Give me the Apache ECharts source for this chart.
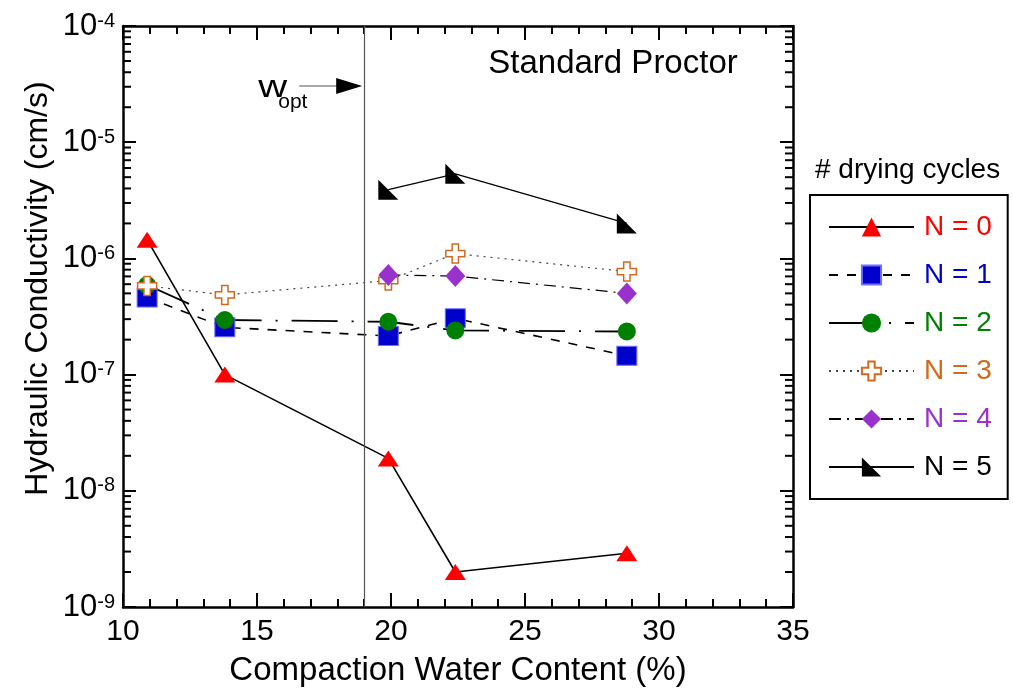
<!DOCTYPE html>
<html>
<head>
<meta charset="utf-8">
<script src="https://cdn.jsdelivr.net/npm/echarts@6/dist/echarts.min.js"></script>
<style>
html,body{margin:0;padding:0;background:#fff;}
#chart{width:1013px;height:694px;}
</style>
</head>
<body>
<div id="chart"></div>
<script>
// ---- data ----
const xAll = [10.9, 13.8, 19.9, 22.4, 28.8];
const xLate = [19.9, 22.4, 28.8];
const kN0 = [1.45e-6, 1.0e-7, 1.9e-8, 2.0e-9, 2.9e-9];
const kN1 = [4.6e-7, 2.55e-7, 2.15e-7, 3.05e-7, 1.45e-7];
const kN2 = [5.9e-7, 2.95e-7, 2.85e-7, 2.4e-7, 2.35e-7];
const kN3 = [5.8e-7, 4.85e-7, 6.45e-7, 1.1e-6, 7.7e-7];
const kN4 = [7.2e-7, 7.05e-7, 5.0e-7];
const kN5 = [3.9e-6, 5.35e-6, 2.0e-6];
const seriesNames = ['N = 0', 'N = 1', 'N = 2', 'N = 3', 'N = 4', 'N = 5'];
const X_MIN = 10, X_MAX = 35, X_STEP = 5;
const Y_MIN = 1e-9, Y_MAX = 1e-4;
const WOPT = 19;
const xTitle = 'Compaction Water Content (%)';
const yTitle = 'Hydraulic Conductivity (cm/s)';
const panelLabel = 'Standard Proctor';
const legendTitle = '# drying cycles';

// minor tick positions of the log axis (2..9 x each decade)
const yMinorTicks = [];
for (let e = -9; e < -4; e++) for (let k = 2; k <= 9; k++) yMinorTicks.push(k * Math.pow(10, e));

const FONT = "'Liberation Sans', Arial, Helvetica, sans-serif";
const pair = (xs, ys) => xs.map((x, i) => [x, ys[i]]);

const chart = echarts.init(document.getElementById('chart'), null, {renderer: 'canvas'});

const colors = ['#ff0000', '#0000cc', '#008000', '#d2691e', '#9932cc', '#000000'];

function lineSeries(name, data, lineStyle, symbol, symbolSize, itemStyle) {
  return {
    type: 'line', name, data, symbol, symbolSize,
    showSymbol: true,
    lineStyle: Object.assign({color: '#000'}, lineStyle),
    itemStyle: itemStyle,
    emphasis: {disabled: true},
    z: 3
  };
}

const option = {
  animation: false,
  backgroundColor: '#fff',
  textStyle: {fontFamily: FONT, color: '#000'},
  grid: {left: 123, right: 220, top: 26, bottom: 87, containLabel: false},
  xAxis: [{
    type: 'value', min: X_MIN, max: X_MAX, interval: X_STEP, position: 'bottom',
    name: xTitle, nameLocation: 'middle', nameGap: 47,
    nameTextStyle: {fontSize: 33, fontFamily: FONT, color: '#000'},
    axisLine: {show: true, onZero: false, lineStyle: {color: '#000', width: 2.5}},
    axisTick: {show: true, inside: true, length: 14, lineStyle: {color: '#000', width: 2}},
    minorTick: {show: true, splitNumber: 5, length: 8, lineStyle: {color: '#000', width: 2}},
    axisLabel: {fontSize: 30, fontFamily: FONT, color: '#000', margin: 10},
    splitLine: {show: false}
  }, {
    type: 'value', min: X_MIN, max: X_MAX, interval: X_STEP, position: 'top',
    axisLine: {show: true, onZero: false, lineStyle: {color: '#000', width: 2.5}},
    axisTick: {show: true, inside: true, length: 14, lineStyle: {color: '#000', width: 2}},
    minorTick: {show: true, splitNumber: 5, length: 8, lineStyle: {color: '#000', width: 2}},
    axisLabel: {show: false},
    splitLine: {show: false}
  }],
  yAxis: [{
    type: 'log', logBase: 10, min: Y_MIN, max: Y_MAX, position: 'left',
    axisLine: {show: true, onZero: false, lineStyle: {color: '#000', width: 2.5}},
    axisTick: {show: true, inside: true, length: 13, lineStyle: {color: '#000', width: 2}},
    axisLabel: {
      margin: 8,
      formatter: v => '{b|10}{s|' + Math.round(Math.log10(v)) + '}',
      rich: {
        b: {fontSize: 31, fontFamily: FONT, color: '#000', lineHeight: 30},
        s: {fontSize: 20, fontFamily: FONT, color: '#000', verticalAlign: 'top', lineHeight: 20}
      }
    },
    splitLine: {show: false}
  }, {
    type: 'log', logBase: 10, min: Y_MIN, max: Y_MAX, position: 'right',
    axisLine: {show: true, onZero: false, lineStyle: {color: '#000', width: 2.5}},
    axisTick: {show: true, inside: true, length: 13, lineStyle: {color: '#000', width: 2}},
    axisLabel: {show: false},
    splitLine: {show: false}
  }],
  legend: {
    orient: 'vertical', left: 810, top: 195,
    padding: [18, 16, 18, 18],
    itemWidth: 85, itemHeight: 24, itemGap: 20,
    borderColor: '#000', borderWidth: 2, borderRadius: 0,
    backgroundColor: '#fff',
    selectedMode: false,
    textStyle: {fontSize: 28, fontFamily: FONT, padding: [0, 0, 0, 5]},
    data: seriesNames.map((n, i) => ({name: n, textStyle: {color: colors[i]}}))
  },
  series: [
    {
      type: 'custom', name: 'minorTicks', silent: true, clip: false, z: 10,
      data: yMinorTicks.map(v => [X_MIN, v]),
      renderItem: (params, api) => {
        const v = api.value(1);
        const pL = api.coord([X_MIN, v]);
        const pR = api.coord([X_MAX, v]);
        const st = {stroke: '#000', lineWidth: 2};
        return {type: 'group', children: [
          {type: 'line', shape: {x1: pL[0], y1: pL[1], x2: pL[0] + 8, y2: pL[1]}, style: st},
          {type: 'line', shape: {x1: pR[0] - 8, y1: pR[1], x2: pR[0], y2: pR[1]}, style: st}
        ]};
      }
    },
    {
      type: 'line', name: 'wopt', data: [], silent: true,
      markLine: {
        silent: true, symbol: 'none', label: {show: false},
        lineStyle: {color: '#555', width: 1.2, type: 'solid'},
        data: [{xAxis: WOPT}]
      }
    },
    lineSeries('N = 0', pair(xAll, kN0), {width: 1.6, type: 'solid'}, 'triangle', [21, 16],
      {color: '#ff0000'}),
    lineSeries('N = 1', pair(xAll, kN1), {width: 1.6, type: [9, 9]}, 'rect', [20, 19],
      {color: '#0000cc', borderColor: '#7070ff', borderWidth: 1}),
    lineSeries('N = 2', pair(xAll, kN2), {width: 1.8, type: [46, 14, 2, 14]}, 'circle', 18,
      {color: '#008000'}),
    lineSeries('N = 3', pair(xAll, kN3), {width: 1.2, type: [2, 5], color: '#444'},
      'path://M1,0 L2,0 L2,1 L3,1 L3,2 L2,2 L2,3 L1,3 L1,2 L0,2 L0,1 L1,1 Z', 19,
      {color: '#ffffff', borderColor: '#d2691e', borderWidth: 1.5}),
    lineSeries('N = 4', pair(xLate, kN4), {width: 1.2, type: [12, 6, 2, 6]}, 'diamond', [20, 22],
      {color: '#9932cc'}),
    lineSeries('N = 5', pair(xLate, kN5), {width: 1.3, type: 'solid'},
      'path://M0,0 L0,10 L10,10 Z', 20,
      {color: '#000000'})
  ]
};

chart.setOption(option);

// annotations positioned from the axis scales
const px = chart.convertToPixel({xAxisIndex: 0}, WOPT);
const yTop = chart.convertToPixel({yAxisIndex: 0}, Y_MAX);
const yBot = chart.convertToPixel({yAxisIndex: 0}, Y_MIN);
const arrowY = yTop + 60;
chart.setOption({
  graphic: [
    {type: 'text', x: px - 106, y: arrowY + 2, scaleX: 1.25,
      style: {text: 'w', font: '32px ' + FONT, fill: '#000', align: 'left', verticalAlign: 'middle'}},
    {type: 'text', x: px - 86, y: arrowY + 16,
      style: {text: 'opt', font: '21px ' + FONT, fill: '#000', align: 'left', verticalAlign: 'middle'}},
    {type: 'line', shape: {x1: px - 65, y1: arrowY, x2: px - 26, y2: arrowY},
      style: {stroke: '#555', lineWidth: 1.2}},
    {type: 'polygon', shape: {points: [[px - 28, arrowY - 8], [px - 2, arrowY], [px - 28, arrowY + 8]]},
      style: {fill: '#000'}},
    {type: 'text', x: 613, y: yTop + 38,
      style: {text: panelLabel, font: '33px ' + FONT, fill: '#000', align: 'center', verticalAlign: 'middle'}},
    {type: 'text', x: 815, y: 170,
      style: {text: legendTitle, font: '28px ' + FONT, fill: '#000', align: 'left', verticalAlign: 'middle'}},
    {type: 'text', x: 38, y: (yTop + yBot) / 2 - 28, rotation: Math.PI / 2,
      style: {text: yTitle, font: '32px ' + FONT, fill: '#000', align: 'center', verticalAlign: 'middle'}}
  ]
});
</script>
</body>
</html>
